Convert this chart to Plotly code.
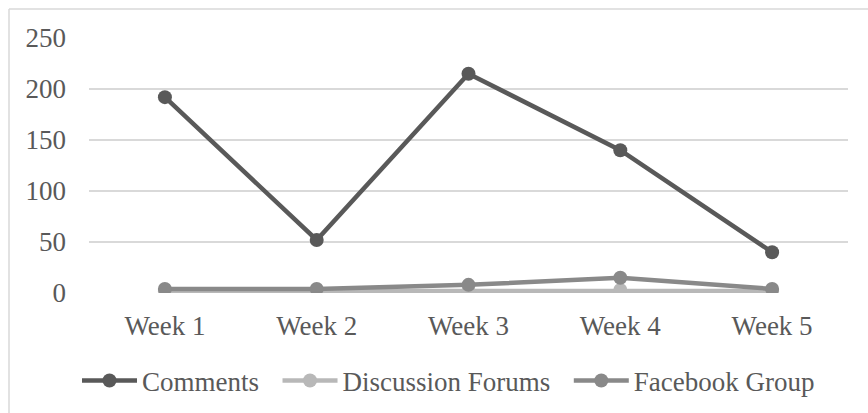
import plotly.graph_objects as go

weeks = ["Week 1", "Week 2", "Week 3", "Week 4", "Week 5"]
comments = [192, 52, 215, 140, 40]
discussion_forums = [2, 2, 2, 3, 2]
facebook_group = [4, 4, 8, 15, 4]

y_ticks = [0, 50, 100, 150, 200, 250]

# trailing no-break spaces widen the gap between legend entries
PAD = "\u00a0\u00a0"
series = [
    ("Comments" + PAD, comments, "#595959"),
    ("Discussion Forums" + PAD, discussion_forums, "#b8b8b8"),
    ("Facebook Group", facebook_group, "#898989"),
]

W, H = 868, 413
FONT = "Liberation Serif"
FS = 27
TEXT = "#595959"
GRID = "#d9d9d9"

fig = go.Figure()
for name, vals, color in series:
    fig.add_trace(go.Scatter(
        x=weeks, y=vals, name=name, mode="lines+markers",
        line=dict(color=color, width=4.5),
        marker=dict(color=color, size=14),
    ))

ml, mr, mt, mb = 89, 20, 38, 120
pw, ph = W - ml - mr, H - mt - mb

fig.update_layout(
    width=W, height=H,
    margin=dict(l=ml, r=mr, t=mt, b=mb, autoexpand=False),
    paper_bgcolor="white", plot_bgcolor="white",
    font=dict(family=FONT, size=FS, color=TEXT),
    showlegend=True,
    legend=dict(
        orientation="h", xanchor="center", yanchor="middle",
        xref="container", yref="container",
        x=448.5 / W, y=1 - 381 / H,
        font=dict(family=FONT, size=FS, color=TEXT),
        itemwidth=55, bgcolor="rgba(0,0,0,0)",
    ),
    xaxis=dict(
        type="category", range=[-0.5, 4.5], showgrid=False,
        showline=False, zeroline=False, ticks="", automargin=False,
        tickfont=dict(family=FONT, size=FS, color=TEXT),
        ticklabelstandoff=14,
    ),
    yaxis=dict(
        range=[0, 250], tickvals=y_ticks, showgrid=True, automargin=False,
        gridcolor=GRID, gridwidth=1.5, zeroline=False, showline=False,
        tickfont=dict(family=FONT, size=FS, color=TEXT),
        ticklabelstandoff=22,
    ),
)

# chart frame: top and left edges of the outer border
fig.add_shape(type="line", xref="paper", yref="paper",
              x0=(9 - ml) / pw, x1=(W + 5 - ml) / pw,
              y0=(H - mb - 9) / ph, y1=(H - mb - 9) / ph,
              line=dict(color=GRID, width=1.5))
fig.add_shape(type="line", xref="paper", yref="paper",
              x0=(9 - ml) / pw, x1=(9 - ml) / pw,
              y0=(H - mb - 9) / ph, y1=-(mb + 5) / ph,
              line=dict(color=GRID, width=1.5))

fig.write_html("out.html")
